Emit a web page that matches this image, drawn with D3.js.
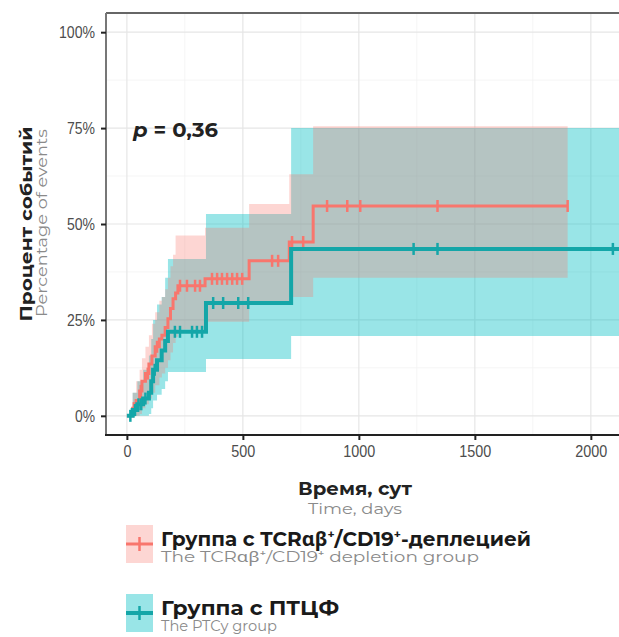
<!DOCTYPE html>
<html><head><meta charset="utf-8">
<script src="https://cdn.jsdelivr.net/npm/d3@7"></script>
<style>
html,body{margin:0;padding:0;background:#fff;}
svg text{font-family:"Noto Sans","Open Sans",sans-serif;}
</style>
</head><body>
<svg id="chart" width="619" height="637"></svg>
<script>
// ---- data ----
const redTime  = [0, 25, 40, 55, 65, 80, 95, 108, 122, 140, 151, 165, 177, 188, 199, 210, 220, 337, 527, 700, 803, 1900];
const redEst   = [0, 0.02, 0.04, 0.065, 0.09, 0.11, 0.135, 0.156, 0.18, 0.2, 0.21, 0.23, 0.253, 0.28, 0.305, 0.32, 0.339, 0.357, 0.404, 0.453, 0.547, 0.547];
const redLow   = [0, 0, 0, 0.005, 0.02, 0.03, 0.045, 0.06, 0.08, 0.1, 0.11, 0.125, 0.145, 0.165, 0.19, 0.205, 0.225, 0.245, 0.29, 0.31, 0.36, 0.36];
const redHigh  = [0, 0.06, 0.09, 0.12, 0.15, 0.18, 0.21, 0.24, 0.27, 0.3, 0.31, 0.33, 0.36, 0.39, 0.42, 0.47, 0.47, 0.49, 0.552, 0.63, 0.755, 0.755];
const redCensor = [30, 60, 90, 130, 229, 259, 294, 315, 367, 389, 410, 432, 454, 475, 497, 626, 652, 712, 760, 863, 950, 1006, 1339, 1900];

const tealTime = [0, 25, 45, 70, 95, 105, 113, 130, 150, 165, 177, 341, 708, 2130];
const tealEst  = [0, 0.015, 0.03, 0.045, 0.06, 0.09, 0.12, 0.145, 0.17, 0.195, 0.219, 0.294, 0.435, 0.435];
const tealLow  = [0, 0, 0, 0, 0.005, 0.02, 0.04, 0.055, 0.07, 0.09, 0.114, 0.148, 0.208, 0.208];
const tealHigh = [0, 0.06, 0.09, 0.12, 0.157, 0.2, 0.25, 0.29, 0.31, 0.36, 0.409, 0.526, 0.75, 0.75];
const tealCensor = [15, 35, 50, 62, 80, 120, 207, 229, 281, 302, 324, 372, 415, 480, 523, 1236, 1339, 2095];

const xTicks = [0, 500, 1000, 1500, 2000];
const xMinor = [250, 750, 1250, 1750];
const yTicks = [0, 0.25, 0.5, 0.75, 1];
const yMinor = [0.125, 0.375, 0.625, 0.875];

const pText = "= 0,36";
const yTitle = "Процент событий", yTitleEn = "Percentage of events";
const xTitle = "Время, сут", xTitleEn = "Time, days";
const legendNames = ["Группа с TCRαβ⁺/CD19⁺-деплецией", "Группа с ПТЦФ"];
const legendNamesEn = ["The TCRαβ⁺/CD19⁺ depletion group", "The PTCy group"];

const RED = "#F8766D", TEAL = "#14A6A8";
const TEAL_FILL = "rgba(0,191,196,0.4)", RED_FILL = "rgba(248,118,109,0.3)";
const NARROW = "'Liberation Sans Narrow','Liberation Sans','Roboto',sans-serif";
const TITLE_FONT = "'Montserrat','Noto Sans','Open Sans',sans-serif";

// ---- layout ----
const svg = d3.select("#chart");
const P = {l:106, r:621, t:13, b:435};
const x = d3.scaleLinear().domain([-90, 2130]).range([P.l, P.r]);
const y = d3.scaleLinear().domain([-0.05, 1.05]).range([P.b, P.t]);

svg.append("defs").append("clipPath").attr("id","clip")
  .append("rect").attr("x",P.l).attr("y",P.t).attr("width",P.r-P.l).attr("height",P.b-P.t);

const grid = svg.append("g");
grid.selectAll(".xm").data(xMinor).join("line")
  .attr("x1",d=>x(d)).attr("x2",d=>x(d)).attr("y1",P.t).attr("y2",P.b)
  .attr("stroke","#f2f2f2").attr("stroke-width",0.8);
grid.selectAll(".ym").data(yMinor).join("line")
  .attr("y1",d=>y(d)).attr("y2",d=>y(d)).attr("x1",P.l).attr("x2",P.r)
  .attr("stroke","#f2f2f2").attr("stroke-width",0.8);
grid.selectAll(".xM").data(xTicks).join("line")
  .attr("x1",d=>x(d)).attr("x2",d=>x(d)).attr("y1",P.t).attr("y2",P.b)
  .attr("stroke","#e6e6e6").attr("stroke-width",1.2);
grid.selectAll(".yM").data(yTicks).join("line")
  .attr("y1",d=>y(d)).attr("y2",d=>y(d)).attr("x1",P.l).attr("x2",P.r)
  .attr("stroke","#e6e6e6").attr("stroke-width",1.2);

function mk(time, est, lo, hi){ return time.map((t,i)=>({t, e:est[i], lo:lo[i], hi:hi[i]})); }
const red = mk(redTime, redEst, redLow, redHigh);
const teal = mk(tealTime, tealEst, tealLow, tealHigh);

const area = d3.area().curve(d3.curveStepAfter).x(d=>x(d.t)).y0(d=>y(d.lo)).y1(d=>y(d.hi));
const line = d3.line().curve(d3.curveStepAfter).x(d=>x(d.t)).y(d=>y(d.e));

const plot = svg.append("g").attr("clip-path","url(#clip)");
plot.append("path").datum(teal).attr("d",area).attr("fill",TEAL_FILL);
plot.append("path").datum(red).attr("d",area).attr("fill",RED_FILL);

function estAt(data, t){
  const i = d3.bisector(d=>d.t).right(data, t) - 1;
  return data[Math.max(0,i)].e;
}
plot.append("path").datum(red).attr("d",line).attr("fill","none").attr("stroke",RED).attr("stroke-width",3);
plot.selectAll(".rc").data(redCensor).join("line")
  .attr("x1",d=>x(d)).attr("x2",d=>x(d)).attr("y1",d=>y(estAt(red,d))-6).attr("y2",d=>y(estAt(red,d))+6)
  .attr("stroke",RED).attr("stroke-width",2.5);
plot.append("path").datum(teal).attr("d",line).attr("fill","none").attr("stroke",TEAL).attr("stroke-width",4);
plot.selectAll(".tc").data(tealCensor).join("line")
  .attr("x1",d=>x(d)).attr("x2",d=>x(d)).attr("y1",d=>y(estAt(teal,d))-6).attr("y2",d=>y(estAt(teal,d))+6)
  .attr("stroke",TEAL).attr("stroke-width",2.5);

// panel border
svg.append("line").attr("x1",P.l).attr("x2",P.r).attr("y1",P.t).attr("y2",P.t).attr("stroke","#666").attr("stroke-width",2);
svg.append("line").attr("x1",P.l).attr("x2",P.l).attr("y1",P.t).attr("y2",P.b).attr("stroke","#777").attr("stroke-width",2);
svg.append("line").attr("x1",P.l-1).attr("x2",P.r).attr("y1",P.b).attr("y2",P.b).attr("stroke","#222").attr("stroke-width",2);

// narrow tick label width: digits ~8px, % ~12px
function tickLen(s){ let w=0; for(const c of s) w += (c==="%")?12:8; return w; }

// axes
const xAxis = d3.axisBottom(x).tickValues(xTicks).tickSize(5).tickPadding(5).tickFormat(d3.format("d"));
const gx = svg.append("g").attr("transform",`translate(0,${P.b})`).call(xAxis);
gx.select(".domain").remove();
gx.selectAll(".tick line").attr("stroke","#222").attr("stroke-width",2);
gx.selectAll("text").style("font-family",NARROW).attr("font-size",17).attr("fill","#4d4d4d")
  .attr("textLength",function(){return tickLen(this.textContent);}).attr("lengthAdjust","spacingAndGlyphs");

const yAxis = d3.axisLeft(y).tickValues(yTicks).tickSize(5).tickPadding(6).tickFormat(d3.format(".0%"));
const gy = svg.append("g").attr("transform",`translate(${P.l},0)`).call(yAxis);
gy.select(".domain").remove();
gy.selectAll(".tick line").attr("stroke","#222").attr("stroke-width",2);
gy.selectAll("text").style("font-family",NARROW).attr("font-size",17).attr("fill","#4d4d4d")
  .attr("textLength",function(){return tickLen(this.textContent);}).attr("lengthAdjust","spacingAndGlyphs");

// p-value
const pt = svg.append("text").attr("x",133).attr("y",137).attr("font-size",19).attr("font-weight","bold").attr("fill","#222")
  .attr("textLength",85).attr("lengthAdjust","spacingAndGlyphs").style("font-family",TITLE_FONT);
pt.append("tspan").attr("font-style","italic").text("p");
pt.append("tspan").text(" " + pText);

// y title
svg.append("text").attr("transform","translate(32,224) rotate(-90)").attr("text-anchor","middle")
  .attr("font-size",17).attr("font-weight","bold").attr("fill","#222").style("font-family",TITLE_FONT)
  .attr("textLength",195).attr("lengthAdjust","spacingAndGlyphs").text(yTitle);
svg.append("text").attr("transform","translate(47,223) rotate(-90)").attr("text-anchor","middle")
  .attr("font-size",14).attr("fill","#8a8a8a").style("font-family",TITLE_FONT)
  .attr("textLength",188).attr("lengthAdjust","spacingAndGlyphs").text(yTitleEn);

// x title
svg.append("text").attr("x",355).attr("y",495).attr("text-anchor","middle")
  .attr("font-size",18).attr("font-weight","bold").attr("fill","#222").style("font-family",TITLE_FONT)
  .attr("textLength",114).attr("lengthAdjust","spacingAndGlyphs").text(xTitle);
svg.append("text").attr("x",355).attr("y",514).attr("text-anchor","middle")
  .attr("font-size",15).attr("fill","#8a8a8a").style("font-family",TITLE_FONT)
  .attr("textLength",94).attr("lengthAdjust","spacingAndGlyphs").text(xTitleEn);

// legend
const legY = [525, 594];
const legFill = [RED_FILL, TEAL_FILL], legCol = [RED, TEAL], legW = [370, 178], legWEn = [318, 116];
legY.forEach((ly,i)=>{
  const g = svg.append("g");
  g.append("rect").attr("x",126).attr("y",ly).attr("width",27).attr("height",38).attr("fill",legFill[i]);
  g.append("line").attr("x1",126).attr("x2",153).attr("y1",ly+19).attr("y2",ly+19).attr("stroke",legCol[i]).attr("stroke-width",i?4:3);
  g.append("line").attr("x1",139.5).attr("x2",139.5).attr("y1",ly+12).attr("y2",ly+26).attr("stroke",legCol[i]).attr("stroke-width",2.5);
  g.append("text").attr("x",161).attr("y",ly+21).attr("font-size",19).attr("font-weight","bold").attr("fill","#1a1a1a")
    .style("font-family",TITLE_FONT)
    .attr("textLength",legW[i]).attr("lengthAdjust","spacingAndGlyphs").text(legendNames[i]);
  g.append("text").attr("x",161).attr("y",ly+37).attr("font-size",14.5).attr("fill","#8a8a8a")
    .style("font-family",TITLE_FONT)
    .attr("textLength",legWEn[i]).attr("lengthAdjust","spacingAndGlyphs").text(legendNamesEn[i]);
});
</script>
</body></html>
